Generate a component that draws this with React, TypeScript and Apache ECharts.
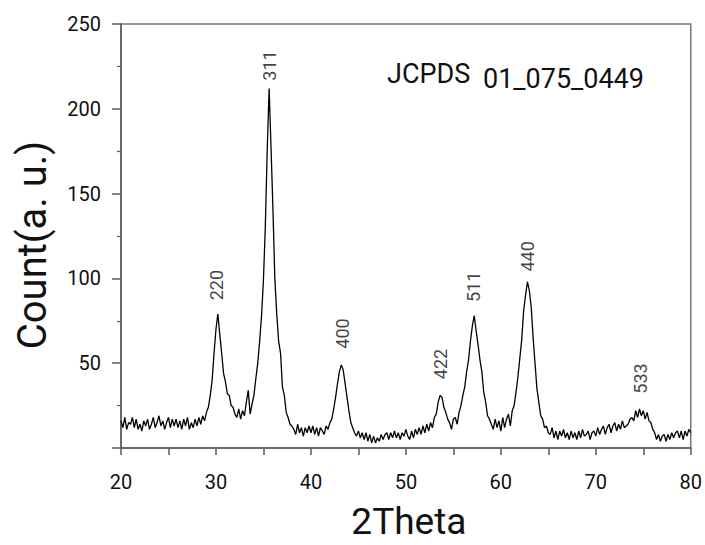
import React, { useEffect, useRef } from "react";
import * as echarts from "echarts";

// 2Theta sampling of the pattern (degrees)
const thetaStart = 20;
const thetaStep = 0.2;

const counts: number[] = [
  16, 12, 18, 11, 15, 14, 18, 12, 17, 11, // 20.0
  14, 10, 16, 13, 17, 11, 14, 18, 12, 15, // 22.0
  19, 13, 16, 11, 15, 18, 12, 17, 13, 17, // 24.0
  12, 16, 11, 17, 13, 18, 11, 15, 12, 17, // 26.0
  13, 18, 14, 19, 16, 21, 24, 31, 40, 56, // 28.0
  70, 79, 67, 56, 44, 39, 32, 31, 25, 24, // 30.0
  20, 18, 23, 17, 22, 19, 27, 34, 20, 26, // 32.0
  31, 41, 50, 63, 78, 99, 131, 176, 212, 177, // 34.0
  141, 100, 79, 63, 56, 36, 31, 21, 18, 14, // 36.0
  13, 11, 8, 14, 9, 12, 7, 12, 9, 13, // 38.0
  9, 13, 8, 12, 7, 12, 10, 8, 13, 11, // 40.0
  15, 17, 23, 30, 38, 45, 49, 46, 38, 30, // 42.0
  22, 15, 12, 9, 7, 10, 6, 9, 5, 9, // 44.0
  4, 8, 3, 7, 3, 6, 4, 8, 5, 8, // 46.0
  9, 5, 9, 6, 10, 6, 9, 5, 9, 7, // 48.0
  11, 7, 5, 10, 6, 11, 8, 12, 8, 13, // 50.0
  9, 14, 10, 15, 12, 18, 20, 27, 31, 30, // 52.0
  24, 21, 17, 15, 11, 17, 18, 14, 21, 25, // 54.0
  31, 36, 45, 52, 63, 72, 78, 69, 61, 52, // 56.0
  45, 33, 27, 19, 17, 14, 11, 17, 12, 16, // 58.0
  10, 18, 12, 17, 20, 13, 22, 25, 33, 42, // 60.0
  53, 64, 81, 90, 98, 93, 83, 65, 50, 35, // 62.0
  27, 19, 17, 12, 13, 9, 8, 12, 6, 10, // 64.0
  5, 10, 7, 11, 6, 9, 5, 10, 6, 9, // 66.0
  5, 10, 6, 11, 7, 8, 10, 5, 9, 10, // 68.0
  7, 12, 8, 11, 13, 8, 12, 14, 9, 13, // 70.0
  15, 10, 14, 11, 16, 12, 13, 14, 17, 18, // 72.0
  16, 22, 18, 23, 19, 22, 17, 21, 16, 15, // 74.0
  11, 9, 5, 8, 4, 7, 8, 4, 8, 5, // 76.0
  9, 6, 9, 10, 6, 10, 5, 10, 7, 11, // 78.0
  9, // 80.0
];

// Miller-index labels of the peaks and where they sit (2Theta, count)
const peakNames = ["220", "311", "400", "422", "511", "440", "533"];
const peakTheta = [30.1, 35.6, 43.35, 53.6, 57.15, 62.85, 74.75];
const peakLabelY = [96, 225.5, 67.5, 49.5, 95, 113, 41];

// Axis ticks
const xTicks = { min: 20, max: 80, interval: 10 };
const yTicks = { min: 0, max: 250, interval: 50 };

const FONT = "Roboto";

export default function App() {
  const ref = useRef<HTMLDivElement>(null);

  useEffect(() => {
    if (!ref.current) return;
    const chart = echarts.init(ref.current, undefined, { renderer: "svg" });

    const lineData = counts.map((c, i) => [
      Math.round((thetaStart + i * thetaStep) * 100) / 100,
      c,
    ]);
    const labelData = peakNames.map((n, i) => [peakTheta[i], peakLabelY[i], n]);

    const axisColor = "#5a5a5a";
    const textColor = "#111";

    chart.setOption({
      animation: false,
      backgroundColor: "#fff",
      grid: {
        left: 121,
        right: 10,
        top: 24,
        bottom: 91,
        show: true,
        borderColor: "#777",
        borderWidth: 1.5,
        containLabel: false,
      },
      xAxis: {
        type: "value",
        min: xTicks.min,
        max: xTicks.max,
        interval: xTicks.interval,
        name: "2Theta",
        nameLocation: "middle",
        nameGap: 55,
        nameTextStyle: { fontFamily: FONT, fontSize: 37, color: textColor, padding: [0, 0, 0, 6] },
        axisLine: { show: true, lineStyle: { color: axisColor, width: 1.5 } },
        axisTick: { show: true, length: 7, lineStyle: { color: axisColor, width: 1.5 } },
        minorTick: { show: true, splitNumber: 2, length: 7, lineStyle: { color: axisColor, width: 1.5 } },
        splitLine: { show: false },
        minorSplitLine: { show: false },
        axisLabel: { fontFamily: FONT, fontSize: 20, color: textColor, margin: 24 },
      },
      yAxis: {
        type: "value",
        min: yTicks.min,
        max: yTicks.max,
        interval: yTicks.interval,
        axisLine: { show: true, lineStyle: { color: axisColor, width: 1.5 } },
        axisTick: { show: true, length: 9, lineStyle: { color: axisColor, width: 1.5 } },
        minorTick: { show: true, splitNumber: 2, length: 4, lineStyle: { color: axisColor, width: 1.2 } },
        splitLine: { show: false },
        minorSplitLine: { show: false },
        axisLabel: {
          fontFamily: FONT,
          fontSize: 20,
          color: textColor,
          margin: 20,
          showMinLabel: false,
        },
      },
      series: [
        {
          type: "line",
          data: lineData,
          showSymbol: false,
          symbol: "none",
          lineStyle: { color: "#000", width: 1.3 },
          silent: true,
        },
        {
          type: "scatter",
          data: labelData,
          symbolSize: 0,
          silent: true,
          label: {
            show: true,
            position: "inside",
            rotate: 90,
            align: "center",
            verticalAlign: "middle",
            formatter: (p: any) => p.value[2],
            fontFamily: FONT,
            fontSize: 18,
            color: textColor,
          },
        },
      ],
      graphic: [
        {
          type: "text",
          x: 32,
          y: 245,
          rotation: Math.PI / 2,
          style: {
            text: "Count(a. u.)",
            fontFamily: FONT,
            fontSize: 40,
            fill: textColor,
            align: "center",
            verticalAlign: "middle",
          },
        },
        {
          type: "text",
          left: 387,
          top: 60,
          style: { text: "JCPDS", fontFamily: FONT, fontSize: 27, fill: textColor },
        },
        {
          type: "text",
          left: 483,
          top: 65,
          style: { text: "01_075_0449", fontFamily: FONT, fontSize: 27, fill: textColor },
        },
      ],
    });

    return () => chart.dispose();
  }, []);

  return <div ref={ref} style={{ width: 705, height: 545, position: "absolute", left: 0, top: 0 }} />;
}
